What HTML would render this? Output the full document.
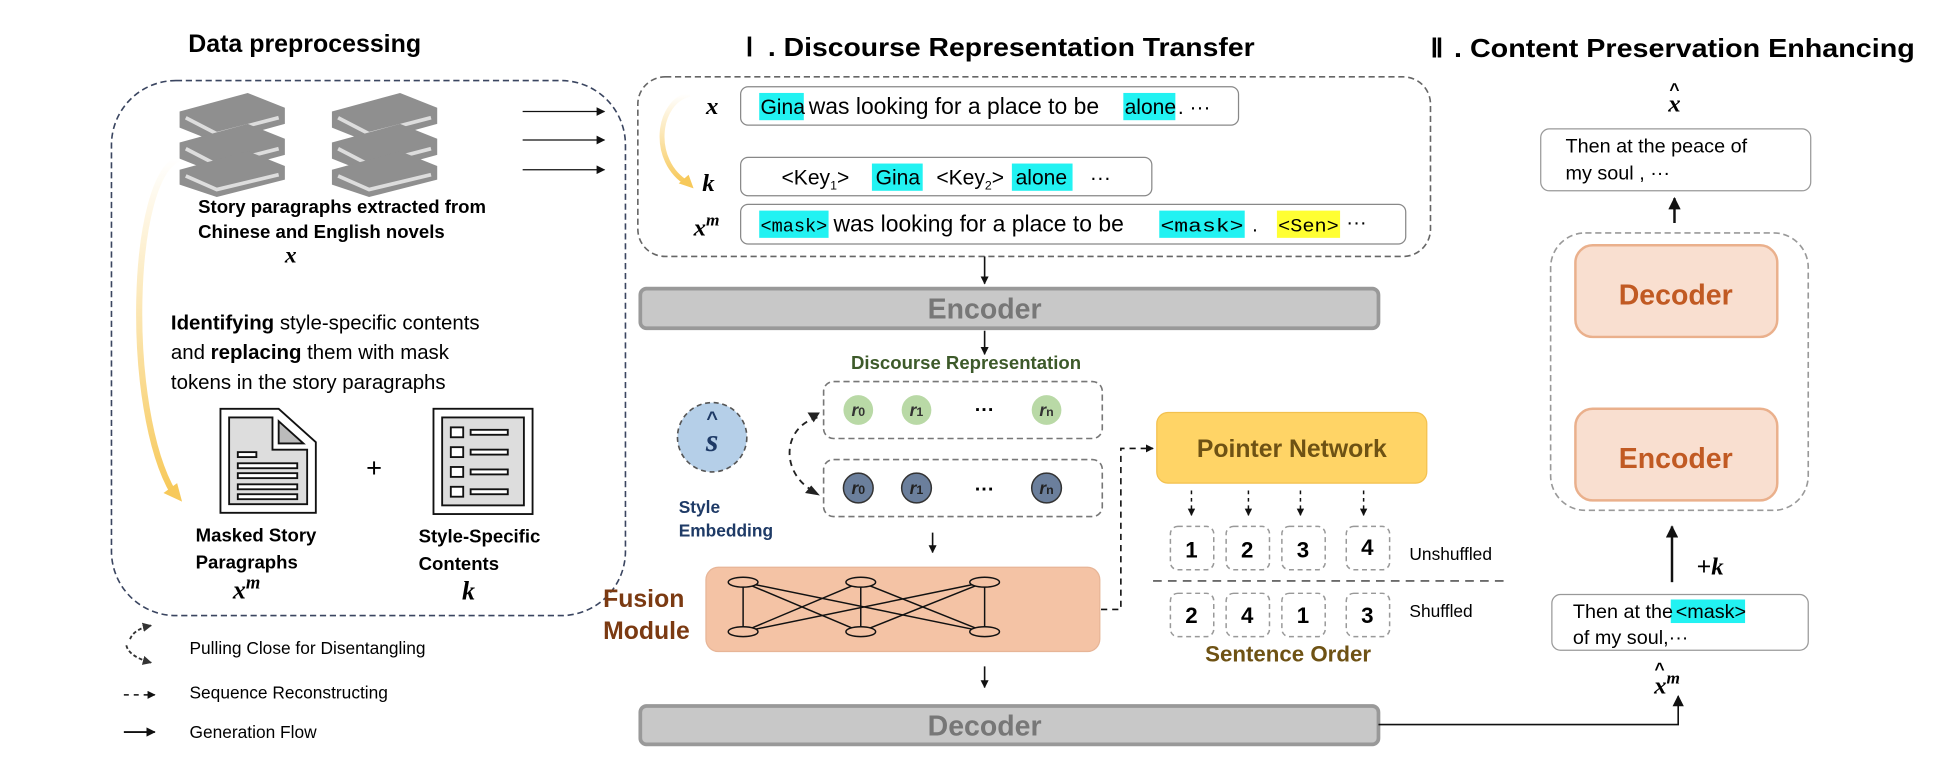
<!DOCTYPE html>
<html><head><meta charset="utf-8"><style>
html,body{margin:0;padding:0;background:#fff;}
svg{display:block;}
text{font-family:"Liberation Sans",sans-serif;}
.ser{font-family:"Liberation Serif",serif;font-style:italic;font-weight:bold;}
.mono{font-family:"Liberation Mono",monospace;}
</style></head><body>
<svg width="1942" height="768" viewBox="0 0 1568 620" xmlns="http://www.w3.org/2000/svg">
<defs>
<marker id="ah" viewBox="0 0 10 10" refX="9" refY="5" markerWidth="7" markerHeight="7" orient="auto"><path d="M0,0 L10,5 L0,10z" fill="#111"/></marker>
<marker id="ahs" viewBox="0 0 10 10" refX="9" refY="5" markerWidth="5" markerHeight="5" orient="auto"><path d="M0,0 L10,5 L0,10z" fill="#111"/></marker>
<marker id="ahg" viewBox="0 0 10 10" refX="9" refY="5" markerWidth="5" markerHeight="5" orient="auto"><path d="M0,0 L10,5 L0,10z" fill="#333"/></marker>
<linearGradient id="yg" x1="0" y1="0" x2="0" y2="1"><stop offset="0" stop-color="#fff"/><stop offset="1" stop-color="#f7c95a"/></linearGradient>
</defs>

<!-- Data preprocessing -->
<text x="152" y="42" font-size="20" font-weight="bold" textLength="188" lengthAdjust="spacingAndGlyphs">Data preprocessing</text>
<rect x="90" y="65" width="415" height="432" rx="52" fill="#fff" stroke="#3a4560" stroke-width="1.3" stroke-dasharray="5,3"/>
<g fill="#8f8f8f">
<g transform="translate(145,75)">
<path d="M0,15 L55,0 L85,12 L85,25 L30,40 L0,28z"/><path d="M5,20 L30,33 L80,20" stroke="#ddd" stroke-width="3" fill="none"/>
<path d="M0,40 L55,25 L85,37 L85,50 L30,65 L0,53z"/><path d="M5,45 L30,58 L80,45" stroke="#ddd" stroke-width="3" fill="none"/>
<path d="M0,62 L55,47 L85,59 L85,70 L30,84 L0,74z"/><path d="M5,67 L30,78 L80,66" stroke="#ddd" stroke-width="3" fill="none"/>
</g>
<g transform="translate(268,75)">
<path d="M0,15 L55,0 L85,12 L85,25 L30,40 L0,28z"/><path d="M5,20 L30,33 L80,20" stroke="#ddd" stroke-width="3" fill="none"/>
<path d="M0,40 L55,25 L85,37 L85,50 L30,65 L0,53z"/><path d="M5,45 L30,58 L80,45" stroke="#ddd" stroke-width="3" fill="none"/>
<path d="M0,62 L55,47 L85,59 L85,70 L30,84 L0,74z"/><path d="M5,67 L30,78 L80,66" stroke="#ddd" stroke-width="3" fill="none"/>
</g>
</g>
<text x="160" y="172" font-size="15" font-weight="bold">Story paragraphs extracted from</text>
<text x="160" y="192" font-size="15" font-weight="bold">Chinese and English novels</text>
<text x="230" y="212" font-size="19" class="ser">x</text>
<text x="138" y="266" font-size="16.5"><tspan font-weight="bold">Identifying</tspan> style-specific contents</text>
<text x="138" y="290" font-size="16.5">and <tspan font-weight="bold">replacing</tspan> them with mask</text>
<text x="138" y="314" font-size="16.5">tokens in the story paragraphs</text>
<path d="M145,128 C105,140 100,330 140,398" stroke="url(#yg)" stroke-width="5" fill="none"/>
<path d="M132,398 L147,405 L143,390z" fill="#f7c95a"/>
<g stroke="#111" stroke-width="1.5" fill="#fff">
<path d="M178,330 L225,330 L255,357 L255,414 L178,414z"/>
<path d="M185,337 L220,337 L220,363 L248,363 L248,407 L185,407z" fill="#ddd"/>
<path d="M225,340 L245,358 L225,358z" fill="#bbb"/>
<rect x="192" y="365" width="15" height="4"/><rect x="192" y="374" width="48" height="4"/><rect x="192" y="382" width="48" height="4"/><rect x="192" y="391" width="48" height="4"/><rect x="192" y="399" width="48" height="4"/>
</g>
<text x="302" y="385" text-anchor="middle" font-size="22">+</text>
<g stroke="#111" stroke-width="1.5" fill="#fff">
<rect x="350" y="330" width="80" height="85"/>
<rect x="357" y="337" width="66" height="71" fill="#ddd"/>
<rect x="364" y="345" width="10" height="8"/><rect x="380" y="347" width="30" height="4"/>
<rect x="364" y="361" width="10" height="8"/><rect x="380" y="363" width="30" height="4"/>
<rect x="364" y="377" width="10" height="8"/><rect x="380" y="379" width="30" height="4"/>
<rect x="364" y="393" width="10" height="8"/><rect x="380" y="395" width="30" height="4"/>
</g>
<text x="158" y="437" font-size="15" font-weight="bold">Masked Story</text>
<text x="158" y="459" font-size="15" font-weight="bold">Paragraphs</text>
<text x="188" y="483" font-size="21" class="ser">x<tspan font-size="15" dy="-8">m</tspan></text>
<text x="338" y="438" font-size="15" font-weight="bold">Style-Specific</text>
<text x="338" y="460" font-size="15" font-weight="bold">Contents</text>
<text x="373" y="484" font-size="21" class="ser">k</text>

<!-- legend -->
<path d="M105,516 Q108,508 122,505" stroke="#333" stroke-width="1.5" fill="none" stroke-dasharray="3,2" marker-end="url(#ahg)"/>
<path d="M102,521 Q104,530 122,535" stroke="#333" stroke-width="1.5" fill="none" stroke-dasharray="3,2" marker-end="url(#ahg)"/>
<text x="153" y="528" font-size="14">Pulling Close for Disentangling</text>
<line x1="100" y1="561" x2="125" y2="561" stroke="#111" stroke-width="1.3" stroke-dasharray="4,4" marker-end="url(#ahs)"/>
<text x="153" y="564" font-size="14">Sequence Reconstructing</text>
<line x1="100" y1="591" x2="125" y2="591" stroke="#111" stroke-width="1.5" marker-end="url(#ahs)"/>
<text x="153" y="596" font-size="14">Generation Flow</text>

<line x1="422" y1="90" x2="488" y2="90" stroke="#111" stroke-width="1" marker-end="url(#ah)"/>
<line x1="422" y1="113" x2="488" y2="113" stroke="#111" stroke-width="1" marker-end="url(#ah)"/>
<line x1="422" y1="137" x2="488" y2="137" stroke="#111" stroke-width="1" marker-end="url(#ah)"/>

<!-- Section I -->
<text x="602" y="45" font-size="21" font-weight="bold" font-family="Liberation Serif">Ⅰ</text>
<text x="620" y="45" font-size="21" font-weight="bold" textLength="393" lengthAdjust="spacingAndGlyphs">. Discourse Representation Transfer</text>
<rect x="515" y="62" width="640" height="145" rx="22" fill="#fff" stroke="#666" stroke-width="1.3" stroke-dasharray="5,3"/>
<path d="M557,76 C530,82 525,130 555,148" stroke="url(#yg)" stroke-width="4" fill="none"/>
<path d="M548,148 L560,152 L556,141z" fill="#f7c95a"/>
<text x="570" y="92" font-size="20" class="ser">x</text>
<rect x="598" y="70" width="402" height="31" rx="6" fill="#fff" stroke="#888"/>
<rect x="613" y="75" width="36" height="22" fill="#22f2f2"/><rect x="907" y="75" width="42" height="22" fill="#22f2f2"/>
<g font-size="17">
<text x="614" y="92">Gina</text>
<text x="653" y="92" font-size="18.5">was looking for a place to be</text>
<text x="908" y="92">alone</text>
<text x="951" y="92">. ···</text>
</g>
<text x="567" y="154" font-size="20" class="ser">k</text>
<rect x="598" y="127" width="332" height="31" rx="6" fill="#fff" stroke="#888"/>
<rect x="704" y="132" width="41" height="22" fill="#22f2f2"/><rect x="817" y="132" width="49" height="22" fill="#22f2f2"/>
<g font-size="17">
<text x="631" y="149">&lt;Key<tspan font-size="10" dy="4">1</tspan><tspan dy="-4">&gt;</tspan></text>
<text x="707" y="149">Gina</text>
<text x="756" y="149">&lt;Key<tspan font-size="10" dy="4">2</tspan><tspan dy="-4">&gt;</tspan></text>
<text x="820" y="149">alone</text>
<text x="880" y="149">···</text>
</g>
<text x="560" y="190" font-size="20" class="ser">x<tspan font-size="14" dy="-8">m</tspan></text>
<rect x="598" y="165" width="537" height="32" rx="6" fill="#fff" stroke="#888"/>
<rect x="613" y="170" width="56" height="22" fill="#22f2f2"/><rect x="936" y="170" width="69" height="22" fill="#22f2f2"/><rect x="1031" y="170" width="51" height="22" fill="#ffff33"/>
<g font-size="16.5">
<text x="614" y="187" class="mono" font-size="15" textLength="54" lengthAdjust="spacingAndGlyphs">&lt;mask&gt;</text>
<text x="673" y="187" font-size="18.5">was looking for a place to be</text>
<text x="937" y="187" class="mono" font-size="15" textLength="67" lengthAdjust="spacingAndGlyphs">&lt;mask&gt;</text>
<text x="1011" y="187">.</text>
<text x="1032" y="187" class="mono" font-size="15" textLength="49" lengthAdjust="spacingAndGlyphs">&lt;Sen&gt;</text>
<text x="1087" y="185">···</text>
</g>

<line x1="795" y1="207" x2="795" y2="229" stroke="#111" stroke-width="1.3" marker-end="url(#ahs)"/>
<rect x="517" y="233" width="596" height="32" rx="5" fill="#c8c8c8" stroke="#999" stroke-width="3"/>
<text x="795" y="257" text-anchor="middle" font-size="23" font-weight="bold" fill="#777">Encoder</text>
<line x1="795" y1="267" x2="795" y2="286" stroke="#111" stroke-width="1.3" marker-end="url(#ahs)"/>
<text x="780" y="298" text-anchor="middle" font-size="15" font-weight="bold" fill="#3d5a2a">Discourse Representation</text>
<rect x="665" y="308" width="225" height="46" rx="8" fill="#fff" stroke="#777" stroke-width="1.3" stroke-dasharray="5,3"/>
<g fill="#b9d9a6">
<circle cx="693" cy="331" r="12"/><circle cx="740" cy="331" r="12"/><circle cx="845" cy="331" r="12"/></g>
<g font-size="14" class="ser" fill="#333" text-anchor="middle">
<text x="693" y="336">r<tspan font-size="10" font-style="normal">0</tspan></text>
<text x="740" y="336">r<tspan font-size="10" font-style="normal">1</tspan></text>
<text x="845" y="336">r<tspan font-size="10" font-style="normal">n</tspan></text></g>
<text x="795" y="336" text-anchor="middle" font-size="16" font-weight="bold">···</text>
<rect x="665" y="371" width="225" height="46" rx="8" fill="#fff" stroke="#777" stroke-width="1.3" stroke-dasharray="5,3"/>
<g fill="#6b7f9c" stroke="#333" stroke-width="1.2">
<circle cx="693" cy="394" r="12"/><circle cx="740" cy="394" r="12"/><circle cx="845" cy="394" r="12"/></g>
<g font-size="14" class="ser" fill="#222" text-anchor="middle">
<text x="693" y="399">r<tspan font-size="10" font-style="normal">0</tspan></text>
<text x="740" y="399">r<tspan font-size="10" font-style="normal">1</tspan></text>
<text x="845" y="399">r<tspan font-size="10" font-style="normal">n</tspan></text></g>
<text x="795" y="400" text-anchor="middle" font-size="16" font-weight="bold">···</text>
<circle cx="575" cy="353" r="28" fill="#b5cfe8" stroke="#555" stroke-width="1.3" stroke-dasharray="4,3"/>
<text x="575" y="364" text-anchor="middle" font-size="26" class="ser" fill="#1e3a66">s</text>
<text x="575" y="343" text-anchor="middle" font-size="16" font-weight="bold" fill="#1e3a66">^</text>
<text x="548" y="414" font-size="14" font-weight="bold" fill="#1e3a66">Style</text>
<text x="548" y="433" font-size="14" font-weight="bold" fill="#1e3a66">Embedding</text>
<path d="M660,337 C630,345 630,385 660,398" stroke="#222" stroke-width="1.5" fill="none" stroke-dasharray="5,4"/>
<path d="M652,333 L662,333 L657,341z" fill="#222"/>
<path d="M650,398 L662,400 L655,392z" fill="#222"/>
<line x1="753" y1="430" x2="753" y2="446" stroke="#111" stroke-width="1.3" marker-end="url(#ahs)"/>
<rect x="570" y="458" width="318" height="68" rx="10" fill="#f4c3a5" stroke="#e7b597"/>
<g stroke="#111" stroke-width="1.2" fill="#f4c3a5">
<line x1="600" y1="470" x2="600" y2="510"/><line x1="695" y1="470" x2="695" y2="510"/><line x1="795" y1="470" x2="795" y2="510"/>
<line x1="600" y1="470" x2="695" y2="510"/><line x1="600" y1="470" x2="795" y2="510"/><line x1="695" y1="470" x2="600" y2="510"/><line x1="695" y1="470" x2="795" y2="510"/><line x1="795" y1="470" x2="600" y2="510"/><line x1="795" y1="470" x2="695" y2="510"/>
<ellipse cx="600" cy="470" rx="12" ry="4"/><ellipse cx="695" cy="470" rx="12" ry="4"/><ellipse cx="795" cy="470" rx="12" ry="4"/>
<ellipse cx="600" cy="510" rx="12" ry="4"/><ellipse cx="695" cy="510" rx="12" ry="4"/><ellipse cx="795" cy="510" rx="12" ry="4"/>
</g>
<text x="487" y="490" font-size="20" font-weight="bold" fill="#7b3a12">Fusion</text>
<text x="487" y="516" font-size="20" font-weight="bold" fill="#7b3a12">Module</text>
<line x1="795" y1="538" x2="795" y2="555" stroke="#111" stroke-width="1.3" marker-end="url(#ahs)"/>
<rect x="517" y="570" width="596" height="31" rx="5" fill="#c8c8c8" stroke="#999" stroke-width="3"/>
<text x="795" y="594" text-anchor="middle" font-size="23" font-weight="bold" fill="#777">Decoder</text>
<polyline points="1113,585 1355,585 1355,562" fill="none" stroke="#111" stroke-width="1.3" marker-end="url(#ah)"/>

<!-- pointer -->
<polyline points="889,492 905,492 905,362 931,362" fill="none" stroke="#111" stroke-width="1.3" stroke-dasharray="5,4" marker-end="url(#ahs)"/>
<rect x="934" y="333" width="218" height="57" rx="9" fill="#ffd466" stroke="#f3c14f"/>
<text x="1043" y="369" text-anchor="middle" font-size="20" font-weight="bold" fill="#6e5214">Pointer Network</text>
<g stroke="#111" stroke-width="1.2" stroke-dasharray="3,3">
<line x1="962" y1="396" x2="962" y2="416" marker-end="url(#ahs)"/><line x1="1008" y1="396" x2="1008" y2="416" marker-end="url(#ahs)"/>
<line x1="1050" y1="396" x2="1050" y2="416" marker-end="url(#ahs)"/><line x1="1101" y1="396" x2="1101" y2="416" marker-end="url(#ahs)"/></g>
<g fill="#fff" stroke="#999" stroke-width="1.2" stroke-dasharray="4,3">
<rect x="945" y="425" width="35" height="35" rx="6"/><rect x="990" y="425" width="35" height="35" rx="6"/><rect x="1035" y="425" width="35" height="35" rx="6"/><rect x="1087" y="425" width="35" height="35" rx="6"/>
<rect x="945" y="479" width="35" height="35" rx="6"/><rect x="990" y="479" width="35" height="35" rx="6"/><rect x="1035" y="479" width="35" height="35" rx="6"/><rect x="1087" y="479" width="35" height="35" rx="6"/></g>
<g font-size="18" font-weight="bold" text-anchor="middle">
<text x="962" y="450">1</text><text x="1007" y="450">2</text><text x="1052" y="450">3</text><text x="1104" y="448">4</text>
<text x="962" y="503">2</text><text x="1007" y="503">4</text><text x="1052" y="503">1</text><text x="1104" y="503">3</text></g>
<line x1="931" y1="469" x2="1215" y2="469" stroke="#555" stroke-width="1.3" stroke-dasharray="7,5"/>
<text x="1138" y="452" font-size="14">Unshuffled</text>
<text x="1138" y="498" font-size="14">Shuffled</text>
<text x="1040" y="534" text-anchor="middle" font-size="18" font-weight="bold" fill="#6e5214">Sentence Order</text>

<!-- Section II -->
<text x="1155" y="46" font-size="21" font-weight="bold" font-family="Liberation Serif">Ⅱ</text>
<text x="1174" y="46" font-size="21" font-weight="bold" textLength="372" lengthAdjust="spacingAndGlyphs">. Content Preservation Enhancing</text>
<text x="1352" y="90" text-anchor="middle" font-size="20" class="ser">x</text>
<text x="1352" y="77" text-anchor="middle" font-size="14" font-weight="bold">^</text>
<rect x="1244" y="104" width="218" height="50" rx="7" fill="#fff" stroke="#999"/>
<text x="1264" y="123" font-size="16">Then at the peace of</text>
<text x="1264" y="145" font-size="16">my soul , ···</text>
<line x1="1352" y1="180" x2="1352" y2="160" stroke="#111" stroke-width="2" marker-end="url(#ahs)"/>
<rect x="1252" y="188" width="208" height="224" rx="28" fill="#fff" stroke="#999" stroke-width="1.3" stroke-dasharray="5,3"/>
<rect x="1272" y="198" width="163" height="74" rx="14" fill="#f9dfd0" stroke="#eab08c" stroke-width="2"/>
<text x="1353" y="246" text-anchor="middle" font-size="23" font-weight="bold" fill="#c15a23">Decoder</text>
<rect x="1272" y="330" width="163" height="74" rx="14" fill="#f9dfd0" stroke="#eab08c" stroke-width="2"/>
<text x="1353" y="378" text-anchor="middle" font-size="23" font-weight="bold" fill="#c15a23">Encoder</text>
<line x1="1350" y1="470" x2="1350" y2="425" stroke="#111" stroke-width="2" marker-end="url(#ahs)"/>
<text x="1370" y="464" font-size="20" font-family="Liberation Serif">+<tspan class="ser">k</tspan></text>
<rect x="1253" y="480" width="207" height="45" rx="7" fill="#fff" stroke="#999"/>
<rect x="1349" y="484" width="60" height="19" fill="#22f2f2"/>
<text x="1270" y="499" font-size="16">Then at the</text>
<text x="1353" y="499" font-size="16">&lt;mask&gt;</text>
<text x="1270" y="520" font-size="16">of my soul,···</text>
<text x="1346" y="560" text-anchor="middle" font-size="20" class="ser">x<tspan font-size="14" dy="-8">m</tspan></text>
<text x="1340" y="545" text-anchor="middle" font-size="14" font-weight="bold">^</text>
</svg>
</body></html>
